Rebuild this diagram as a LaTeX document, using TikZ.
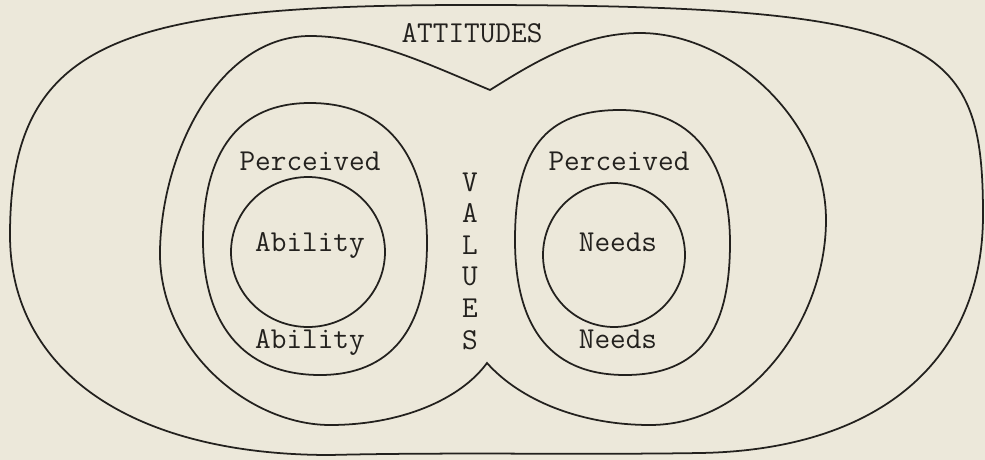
\documentclass[tikz,border=0pt]{standalone}
\usepackage{xcolor}
\definecolor{paper}{RGB}{236,232,218}
\definecolor{ink}{RGB}{35,33,30}
\begin{document}
\begin{tikzpicture}[x=0.02cm, y=-0.02cm, line width=1pt,
		typed/.style={font=\fontsize{17.3}{18}\selectfont\ttfamily, text=ink, anchor=base, inner sep=0pt}]
			% the sheet
			\fill[paper] (0,0) rectangle (985,460);
			\useasboundingbox (0,0) rectangle (985,460);
			% attitudes, the outer ring
			\draw[ink] (470,5) .. controls (120,5) and (10,40) .. (10,235)
				.. controls (10,370) and (130,455) .. (330,455)
				.. controls (450,452) and (580,455) .. (700,453)
				.. controls (880,450) and (983,360) .. (983,215)
				.. controls (983,40) and (940,5) .. (470,5) -- cycle;
			% values, the two lobes pinched in the middle
			\draw[ink] (490,90) .. controls (430,65) and (370,36) .. (310,36)
				.. controls (220,36) and (162,150) .. (160,250)
				.. controls (158,350) and (250,425) .. (330,425)
				.. controls (400,425) and (460,400) .. (487,363)
				.. controls (520,400) and (580,425) .. (650,425)
				.. controls (750,425) and (826,320) .. (826,220)
				.. controls (826,120) and (730,33) .. (640,33)
				.. controls (580,33) and (530,65) .. (490,90) -- cycle;
			% the perceived rings
			\draw[ink] (310,103) .. controls (390,103) and (427,160) .. (427,243)
				.. controls (427,330) and (390,375) .. (320,375)
				.. controls (240,375) and (203,320) .. (203,240)
				.. controls (203,150) and (240,103) .. (310,103) -- cycle;
			\draw[ink] (620,110) .. controls (700,110) and (730,170) .. (730,243)
				.. controls (730,330) and (700,375) .. (625,375)
				.. controls (545,375) and (515,320) .. (515,240)
				.. controls (515,150) and (545,110) .. (620,110) -- cycle;
			% the cores
			\draw[ink] (308,252) ellipse [x radius=1.54cm, y radius=1.5cm];
			\draw[ink] (614,255) ellipse [x radius=1.42cm, y radius=1.44cm];
			% labels
			\node[typed] (att) at (472,42) {ATTITUDES};
			\node[typed] (percab) at (310,170) {Perceived};
			\node[typed] (abin) at (310,251) {Ability};
			\node[typed] (about) at (310,348) {Ability};
			\node[typed] (percne) at (619,170) {Perceived};
			\node[typed] (nein) at (618,251) {Needs};
			\node[typed] (neout) at (618,348) {Needs};
			\foreach \ch [count=\i from 0] in {V,A,L,U,E,S}
				\node[typed] (val\i) at (470,191+31.6*\i) {\ch};
		\end{tikzpicture}
\end{document}
